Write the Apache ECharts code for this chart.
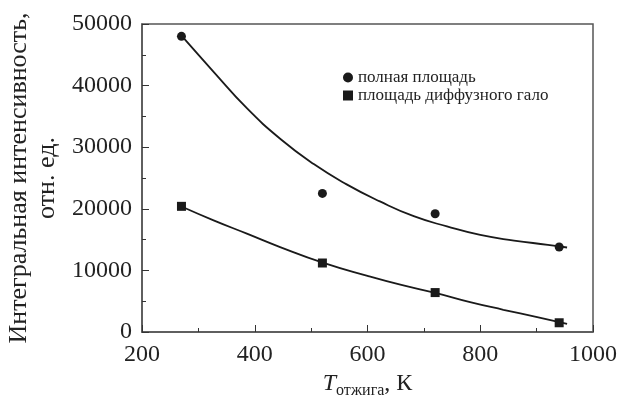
<!DOCTYPE html>
<html>
<head>
<meta charset="utf-8">
<script src="https://cdn.jsdelivr.net/npm/echarts@6/dist/echarts.min.js"></script>
<style>
    html, body { margin: 0; padding: 0; background: #fff; }
    #main { width: 619px; height: 400px; }
</style>
</head>
<body>
<div id="main"></div>
<script>
// измеренные точки
var tempX = [270, 520, 720, 940];
var fullArea = [48000, 22500, 19200, 13800];
var haloArea = [20400, 11200, 6400, 1500];

// аппроксимирующие кривые
var fullFitX = [272, 327, 386, 445, 504, 563, 622, 682, 741, 800, 860, 920, 954];
var fullFitY = [47900, 42240, 36330, 31380, 27300, 23970, 21200, 18800, 17140, 15750, 14850, 14150, 13720];
var haloFitX = [272, 327, 386, 445, 522, 600, 660, 722, 782, 841, 901, 954];
var haloFitY = [20300, 18130, 15970, 13790, 11220, 9110, 7640, 6310, 4850, 3610, 2410, 1330];

var yTicks = [0, 10000, 20000, 30000, 40000, 50000];
var xTicks = [200, 400, 600, 800, 1000];

var fontFamily = '"Liberation Serif", "Times New Roman", serif';

function pairs(xs, ys) {
    var out = [];
    for (let i = 0; i < xs.length; i++) {
        out.push([xs[i], ys[i]]);
    }
    return out;
}

var myChart = echarts.init(document.getElementById('main'));

var option = {
    backgroundColor: '#fff',
    animation: false,
    textStyle: { fontFamily: fontFamily },
    grid: {
        left: 142,
        right: 26,
        top: 24,
        bottom: 68,
        outerBoundsMode: 'none',
        containLabel: false,
        show: true,
        borderColor: '#555',
        borderWidth: 1.5,
        backgroundColor: 'transparent'
    },
    legend: {
        orient: 'vertical',
        left: 338,
        top: 64,
        itemGap: 1,
        itemWidth: 10,
        itemHeight: 10,
        textStyle: { fontFamily: fontFamily, fontSize: 17, color: '#222' },
        data: [
            { name: 'полная площадь', icon: 'circle' },
            { name: 'площадь диффузного гало', icon: 'rect' }
        ]
    },
    xAxis: {
        type: 'value',
        min: 200,
        max: 1000,
        interval: 200,
        axisLine: { show: true, lineStyle: { color: '#555', width: 1.5 } },
        axisTick: { show: true, inside: true, length: 7, lineStyle: { color: '#333' } },
        minorTick: { show: true, splitNumber: 2, length: 4, lineStyle: { color: '#333' } },
        splitLine: { show: false },
        axisLabel: {
            fontFamily: fontFamily,
            fontSize: 24,
            color: '#222',
            margin: 11,
            formatter: function (v) { return xTicks.indexOf(v) >= 0 ? String(v) : ''; }
        },
        name: '{i|T}{s|отжига}{n|, К}',
        nameLocation: 'middle',
        nameGap: 36,
        nameTextStyle: {
            rich: {
                i: { fontFamily: fontFamily, fontSize: 24, fontStyle: 'italic', color: '#222' },
                s: { fontFamily: fontFamily, fontSize: 16, color: '#222', padding: [14, 0, 0, 0] },
                n: { fontFamily: fontFamily, fontSize: 24, color: '#222' }
            }
        }
    },
    yAxis: {
        type: 'value',
        min: 0,
        max: 50000,
        interval: 10000,
        axisLine: { show: true, lineStyle: { color: '#555', width: 1.5 } },
        axisTick: { show: true, inside: true, length: 7, lineStyle: { color: '#333' } },
        minorTick: { show: true, splitNumber: 2, length: 4, lineStyle: { color: '#333' } },
        splitLine: { show: false },
        axisLabel: {
            fontFamily: fontFamily,
            fontSize: 24,
            color: '#222',
            margin: 10,
            formatter: function (v) { return yTicks.indexOf(v) >= 0 ? String(v) : ''; }
        },
        name: 'Интегральная интенсивность,\nотн. ед.',
        nameLocation: 'middle',
        nameRotate: 90,
        nameGap: 78,
        nameTextStyle: { fontFamily: fontFamily, fontSize: 26, lineHeight: 28, color: '#222' }
    },
    series: [
        {
            type: 'line',
            data: pairs(fullFitX, fullFitY),
            smooth: true,
            showSymbol: false,
            symbol: 'none',
            lineStyle: { color: '#1a1a1a', width: 1.8 },
            z: 2
        },
        {
            type: 'line',
            data: pairs(haloFitX, haloFitY),
            smooth: true,
            showSymbol: false,
            symbol: 'none',
            lineStyle: { color: '#1a1a1a', width: 1.8 },
            z: 2
        },
        {
            name: 'полная площадь',
            type: 'scatter',
            symbol: 'circle',
            symbolSize: 9,
            itemStyle: { color: '#1a1a1a', opacity: 1 },
            data: pairs(tempX, fullArea),
            z: 3
        },
        {
            name: 'площадь диффузного гало',
            type: 'scatter',
            symbol: 'rect',
            symbolSize: 9,
            itemStyle: { color: '#1a1a1a', opacity: 1 },
            data: pairs(tempX, haloArea),
            z: 3
        }
    ]
};

myChart.setOption(option);
window.addEventListener('resize', function () {
    myChart.resize();
});
</script>
</body>
</html>
